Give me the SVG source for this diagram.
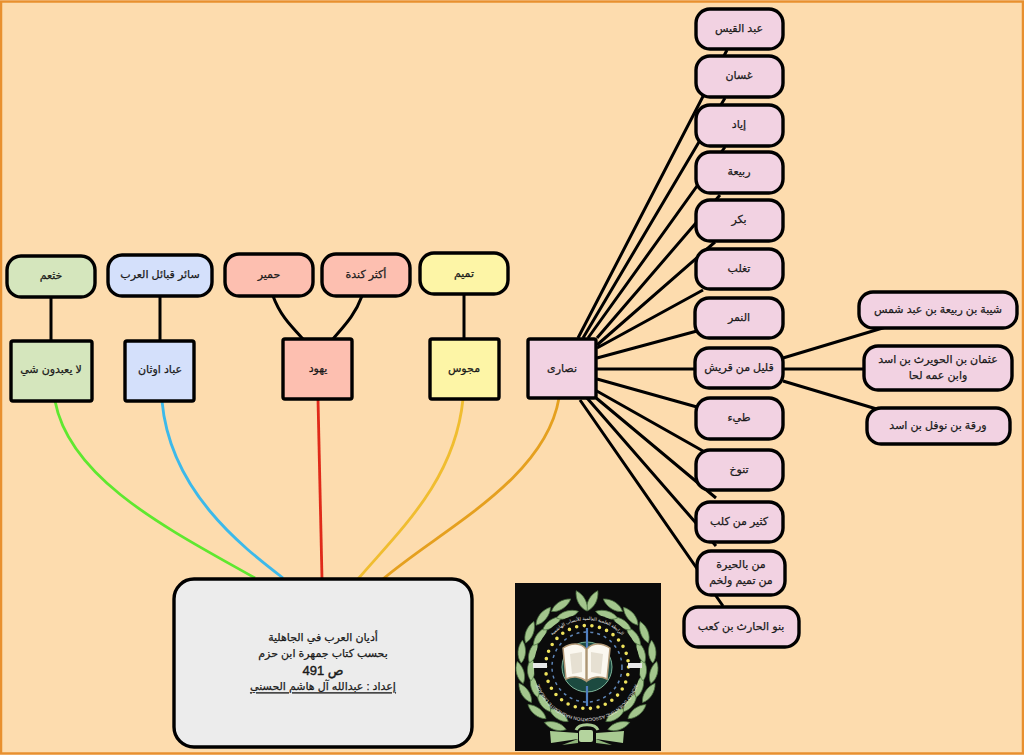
<svg xmlns="http://www.w3.org/2000/svg" xmlns:xlink="http://www.w3.org/1999/xlink" width="1024" height="755" viewBox="0 0 1024 755">
<style>
text{font-family:"Liberation Sans","DejaVu Sans","Noto Sans",Arial,sans-serif;font-size:11px;fill:#1a1a1a;stroke:#1a1a1a;stroke-width:.25;text-anchor:middle;dominant-baseline:central;transform:translateY(-.7px)}
.n{stroke:#000;stroke-width:3.4}
.c{fill:none;stroke:#000;stroke-width:3}
.col{fill:none;stroke-width:2.8}
.pk{fill:#f2d2e2}.gr{fill:#d5e6bd}.bl{fill:#d4e0fb}.sa{fill:#fdbfb0}.ye{fill:#fdf5a6}.ga{fill:#ececec}
text.lg{font-size:4.6px;fill:#eee;stroke:none;dominant-baseline:auto;transform:none}
</style>
<defs>
<path id="leaf" d="M0 0C6-5 16-5 23 0C16 5 6 5 0 0Z" fill="#a3c68d" stroke="#4a6f3f" stroke-width=".7"/>
<g id="pair"><use xlink:href="#leaf" transform="translate(576 602) rotate(-10)"/><use xlink:href="#leaf" transform="translate(578 610) rotate(6)"/></g>
<g id="wing">
<use xlink:href="#pair" transform="rotate(-152 587 667)"/>
<use xlink:href="#pair" transform="rotate(-132 587 667)"/>
<use xlink:href="#pair" transform="rotate(-113 587 667)"/>
<use xlink:href="#pair" transform="rotate(-95 587 667)"/>
<use xlink:href="#pair" transform="rotate(-77 587 667)"/>
<use xlink:href="#pair" transform="rotate(-59 587 667)"/>
<use xlink:href="#pair" transform="rotate(-41 587 667)"/>
<use xlink:href="#pair" transform="rotate(-23 587 667)"/>
</g>
<path id="arcT" d="M540 667A47 47 0 0 1 634 667"/>
<path id="arcB" d="M638 667A51 51 0 0 1 536 667"/>
</defs>
<rect x="1" y="1.500" width="1022" height="752" fill="#fddcae" stroke="#e8902f" stroke-width="2.500"/>
<g id="connectors">
<path class="c" d="M578 338L727 50M583 338L725 98M588 338L725 147M597 338L720 195M597 345L715 242M597 348L703 290M597 358L697 331M597 369L696 369M597 379L697 407M595 390L703 451M595 397L716 498M587 398L716 546M580 400L723 606M783 358L886 327M783 369L865 369M783 381L880 410M51 297V341M160 296V341M464 294V339M273 296C280 315 290 325 303 339M362 296C355 315 345 325 333 339"/>
<path class="col" stroke="#5fe82f" d="M55 401C70 480 170 530 255 578"/>
<path class="col" stroke="#3cb9ea" d="M162 401C170 490 240 545 283 578"/>
<path class="col" stroke="#e02a1a" d="M318 399L322 579"/>
<path class="col" stroke="#f0bd30" d="M463 399C455 480 400 530 358 579"/>
<path class="col" stroke="#e5a01f" d="M559 398C545 480 440 530 383 579"/>
</g>
<g id="n1"><rect class="n pk" x="696" y="9" width="87" height="40" rx="14"/><text x="739" y="29">عبد القيس</text></g>
<g id="n2"><rect class="n pk" x="696" y="56" width="87" height="41" rx="14"/><text x="739" y="76">غسان</text></g>
<g id="n3"><rect class="n pk" x="696" y="105" width="87" height="41" rx="14"/><text x="739" y="125">إياد</text></g>
<g id="n4"><rect class="n pk" x="696" y="152" width="87" height="41" rx="14"/><text x="739" y="172">ربيعة</text></g>
<g id="n5"><rect class="n pk" x="696" y="200" width="87" height="41" rx="14"/><text x="739" y="220">بكر</text></g>
<g id="n6"><rect class="n pk" x="696" y="249" width="87" height="40" rx="14"/><text x="739" y="269">تغلب</text></g>
<g id="n7"><rect class="n pk" x="695" y="298" width="88" height="40" rx="14"/><text x="739" y="318">النمر</text></g>
<g id="n8"><rect class="n pk" x="695" y="348" width="88" height="40" rx="14"/><text x="739" y="368">قليل من قريش</text></g>
<g id="n9"><rect class="n pk" x="696" y="398" width="87" height="41" rx="14"/><text x="739" y="418">طيء</text></g>
<g id="n10"><rect class="n pk" x="696" y="450" width="87" height="40" rx="14"/><text x="739" y="470">تنوخ</text></g>
<g id="n11"><rect class="n pk" x="696" y="502" width="87" height="40" rx="14"/><text x="739" y="522">كثير من كلب</text></g>
<g id="n12"><rect class="n pk" x="697" y="551" width="88" height="44" rx="14"/><text x="741" y="565">من بالحيرة</text><text x="741" y="581">من تميم ولخم</text></g>
<g id="n13"><rect class="n pk" x="684" y="607" width="115" height="40" rx="14"/><text x="741" y="627">بنو الحارث بن كعب</text></g>
<g id="n14"><rect class="n pk" x="859" y="292" width="158" height="36" rx="14"/><text x="938" y="310">شيبة بن ربيعة بن عبد شمس</text></g>
<g id="n15"><rect class="n pk" x="864" y="346" width="148" height="44" rx="14"/><text x="938" y="360">عثمان بن الحويرث بن اسد</text><text x="938" y="376">وابن عمه لحا</text></g>
<g id="n16"><rect class="n pk" x="867" y="408" width="143" height="36" rx="14"/><text x="938" y="426">ورقة بن نوفل بن اسد</text></g>
<g id="nasara"><rect class="n pk" x="528" y="339" width="68" height="59" rx="2"/><text x="562" y="369">نصارى</text></g>
<g id="khatham"><rect class="n gr" x="7" y="256" width="88" height="41" rx="14"/><text x="51" y="276">خثعم</text></g>
<g id="sair"><rect class="n bl" x="108" y="255" width="104" height="41" rx="14"/><text x="160" y="275">سائر قبائل العرب</text></g>
<g id="himyar"><rect class="n sa" x="225" y="254" width="88" height="42" rx="14"/><text x="269" y="275">حمير</text></g>
<g id="kinda"><rect class="n sa" x="322" y="254" width="88" height="42" rx="14"/><text x="366" y="275">أكثر كندة</text></g>
<g id="tamim"><rect class="n ye" x="420" y="253" width="88" height="41" rx="14"/><text x="464" y="274">تميم</text></g>
<g id="none"><rect class="n gr" x="11" y="341" width="81" height="60" rx="2"/><text x="51" y="370">لا يعبدون شي</text></g>
<g id="idols"><rect class="n bl" x="125" y="341" width="69" height="60" rx="2"/><text x="160" y="370">عباد اوثان</text></g>
<g id="jews"><rect class="n sa" x="283" y="339" width="69" height="60" rx="2"/><text x="318" y="369">يهود</text></g>
<g id="magi"><rect class="n ye" x="430" y="339" width="69" height="60" rx="2"/><text x="464" y="369">مجوس</text></g>
<g id="title"><rect class="n ga" x="174" y="579" width="298" height="168" rx="20"/>
<text x="323" y="638">أديان العرب في الجاهلية</text>
<text x="323" y="654">بحسب كتاب جمهرة ابن حزم</text>
<text x="323" y="671" style="font-size:13px;stroke-width:.4">ص 491</text>
<text x="323" y="687" text-decoration="underline">إعداد : عبدالله آل هاشم الحسني</text></g>
<g id="logo">
<rect x="515" y="583" width="146" height="168" fill="#0b0b0b"/>
<use xlink:href="#wing"/>
<use xlink:href="#wing" transform="translate(1174 0) scale(-1 1)"/>
<use xlink:href="#leaf" transform="translate(587 611) rotate(-62)"/>
<use xlink:href="#leaf" transform="translate(587 611) rotate(-118)"/>
<path d="M578 733L550 731L551 743L578 739ZM596 733L624 731L623 743L596 739Z" fill="#a8cb92"/>
<path d="M578 739L562 745L578 743ZM596 739L612 745L596 743Z" fill="#8fb57a"/>
<path d="M576 730C579 723 595 723 598 730" fill="none" stroke="#a8cb92" stroke-width="3"/>
<rect x="579" y="730" width="14" height="12" rx="2" fill="#b4d49e"/>
<circle cx="587" cy="667" r="53" fill="#0b0b0b"/>
<text class="lg"><textPath xlink:href="#arcT" startOffset="50%">الرابطة العلمية العالمية للأنساب الهاشمية</textPath></text>
<text class="lg"><textPath xlink:href="#arcB" startOffset="50%">WORLD SCIENTIFIC ASSOCIATION HASHEMITE LINEAGE</textPath></text>
<circle cx="587" cy="667" r="41.500" fill="none" stroke="#efe35c" stroke-width="3.600" stroke-linecap="round" stroke-dasharray="0 7.700"/>
<circle cx="587" cy="667" r="35" fill="none" stroke="#5f86b8" stroke-width="1.500" stroke-dasharray="3 4"/>
<circle cx="587" cy="667" r="25" fill="#1c4a40" stroke="#7fb59a" stroke-width="1"/>
<path d="M587 628V648M587 686V706" stroke="#4f7fc0" stroke-width="2.200"/>
<path d="M533 663H547V668H533ZM628 663H642V668H628Z" fill="#e8e8e8"/>
<path d="M563 648C572 642 581 643 586 649V681C580 676 572 676 566 679Z" fill="#fbf8f0" stroke="#b49a78" stroke-width="1.500"/>
<path d="M610 648C601 642 592 643 587 649V681C593 676 601 676 607 679Z" fill="#fbf8f0" stroke="#b49a78" stroke-width="1.500"/>
<path d="M570 654L582 652V672L572 674ZM603 654L591 652V672L601 674Z" fill="#e6e0d2"/>
</g>
</svg>
